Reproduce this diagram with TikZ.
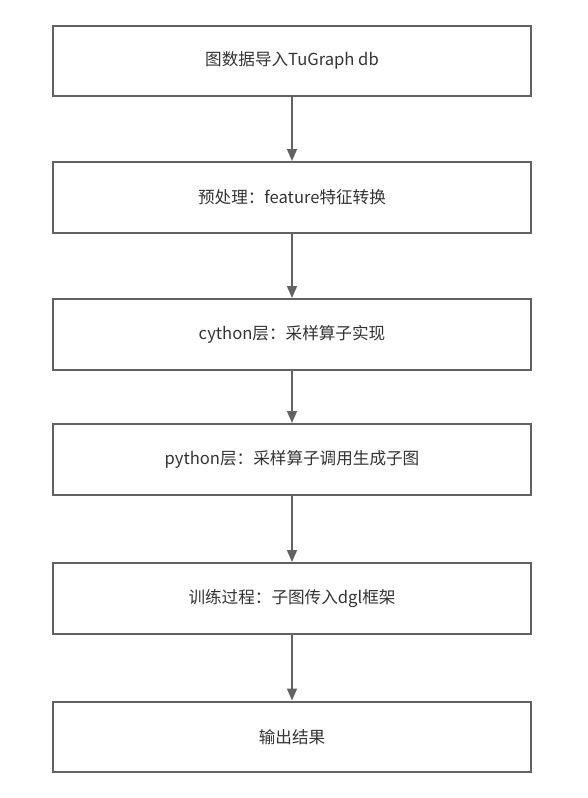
\documentclass[tikz,border=0pt]{standalone}
\usepackage{fontspec}
\setmainfont{Noto Sans CJK SC}
\usetikzlibrary{arrows.meta}
\definecolor{lineC}{HTML}{626262}
\definecolor{textC}{HTML}{333333}
\begin{document}
\begin{tikzpicture}[x=1pt,y=-1pt,
  box/.style={draw=lineC,line width=2pt,minimum width=478pt,minimum height=70.5pt,inner sep=0pt,
    font=\fontsize{16.6}{18}\selectfont,text=textC,anchor=north},
  conn/.style={draw=lineC,line width=1.8pt,-{Triangle[width=10pt,length=12pt]}}]
\useasboundingbox (0,0) rectangle (587,798);
\node[box] (b1) at (292,24.5) {图数据导入TuGraph db};
\node[box] (b2) at (292,161) {预处理：feature特征转换};
\node[box] (b3) at (292,298) {cython层：采样算子实现};
\node[box] (b4) at (292,423) {python层：采样算子调用生成子图};
\node[box] (b5) at (292,562) {训练过程：子图传入dgl框架};
\node[box] (b6) at (292,700.5) {输出结果};
\draw[conn] (b1) -- (b2);
\draw[conn] (b2) -- (b3);
\draw[conn] (b3) -- (b4);
\draw[conn] (b4) -- (b5);
\draw[conn] (b5) -- (b6);
\end{tikzpicture}
\end{document}
